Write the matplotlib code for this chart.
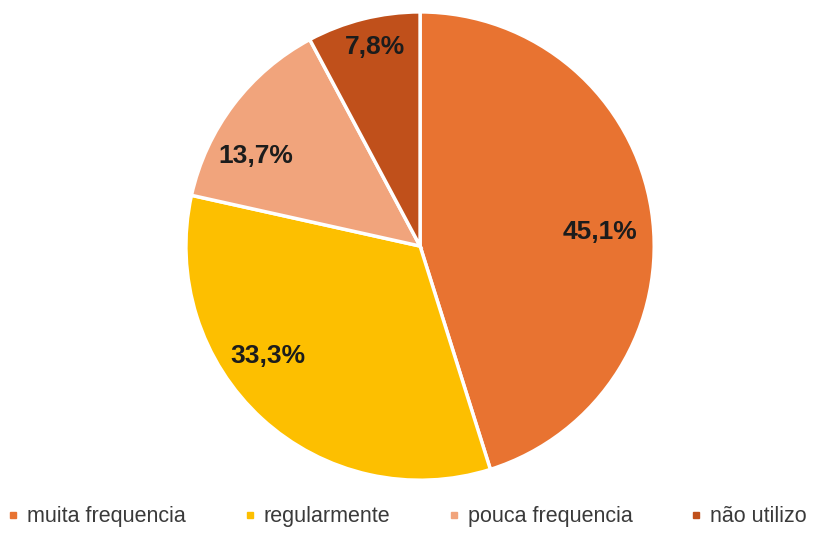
import numpy as np
import matplotlib
matplotlib.use("Agg")
import matplotlib.pyplot as plt
from matplotlib.lines import Line2D

categories = ["muita frequencia", "regularmente", "pouca frequencia", "não utilizo"]
values = [45.1, 33.3, 13.7, 7.8]
labels = ["45,1%", "33,3%", "13,7%", "7,8%"]
colors = ["#E87331", "#FDBF00", "#F1A47C", "#C0501B"]

# label placement: radius fraction and angular nudge (deg) from the wedge middle
label_r = [0.77, 0.80, 0.80, 0.87]
label_shift = [-4.3, -11.7, 8.5, -1.2]

plt.rcParams["font.family"] = ["Liberation Sans", "DejaVu Sans"]

fig = plt.figure(figsize=(8.31, 5.45), dpi=100)
ax = fig.add_axes([0.225, 0.121, 0.561, 0.855])

wedges, _ = ax.pie(values, colors=colors, startangle=90, counterclock=False,
                   wedgeprops=dict(edgecolor="white", linewidth=2.5))
ax.set_xlim(-0.995, 0.995)
ax.set_ylim(-0.995, 0.995)
ax.set_aspect("equal")

for w, lab, r, sh in zip(wedges, labels, label_r, label_shift):
    ang = np.deg2rad((w.theta1 + w.theta2) / 2 + sh)
    ax.text(r * np.cos(ang), r * np.sin(ang), lab, ha="center", va="center",
            fontsize=19, fontweight="bold", color="#1c1c1c")

handles = [Line2D([], [], marker="s", linestyle="", markersize=4.5,
                  markerfacecolor=c, markeredgecolor=c) for c in colors]
fig.legend(handles, categories, loc="center", bbox_to_anchor=(0.49, 0.052), ncol=4,
           frameon=False, fontsize=15.5, handlelength=0.5, handletextpad=0.4,
           columnspacing=2.7, labelcolor="#3a3a3a")

fig.savefig("out.png", dpi=100)
